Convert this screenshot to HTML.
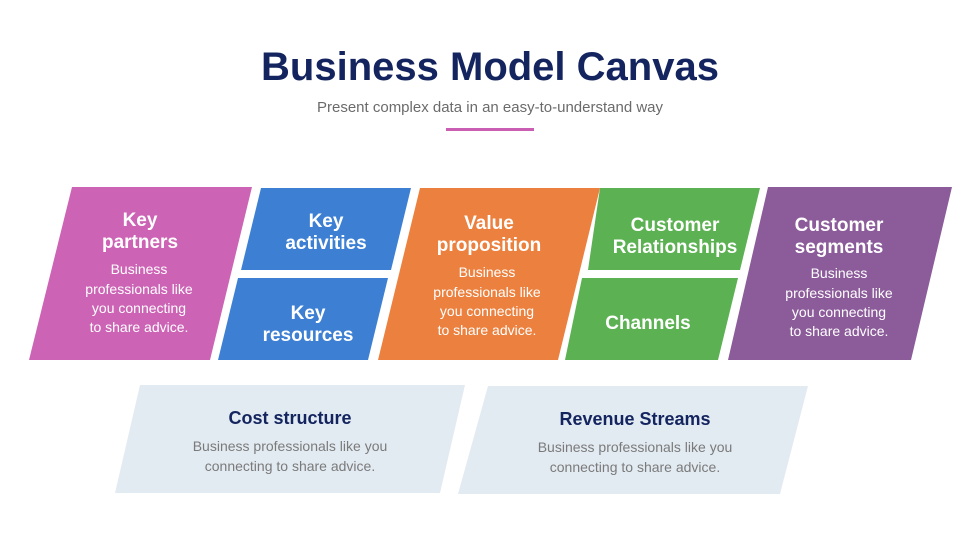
<!DOCTYPE html>
<html><head><meta charset="utf-8"><style>
html,body{margin:0;padding:0;background:#fff;}
svg{display:block;}
text{font-family:"Liberation Sans",sans-serif;}
</style></head><body>
<svg width="980" height="551" viewBox="0 0 980 551" xmlns="http://www.w3.org/2000/svg">
<text x="490" y="80" text-anchor="middle" font-size="40" font-weight="bold" fill="#13245f">Business Model Canvas</text>
<text x="490" y="112" text-anchor="middle" font-size="15" fill="#6b6b6b">Present complex data in an easy-to-understand way</text>
<rect x="446" y="128" width="88" height="3" fill="#c95eb3"/>

<polygon points="72,187 252,187 210,360 29,360" fill="#cc63b5"/>
<polygon points="261,188 411,188 391,270 241,270" fill="#3d80d3"/>
<polygon points="238,278 388,278 368,360 218,360" fill="#3d80d3"/>
<polygon points="420,188 600,188 558,360 378,360" fill="#ec803e"/>
<polygon points="600,188 760,188 740,270 588,270" fill="#5cb152"/>
<polygon points="582,278 738,278 718,360 565,360" fill="#5cb152"/>
<polygon points="768,187 952,187 911,360 728,360" fill="#8b5b9a"/>

<g fill="#fff" font-weight="bold" font-size="19" text-anchor="middle">
<text x="140" y="226">Key</text><text x="140" y="248">partners</text>
<text x="326" y="227">Key</text><text x="326" y="249">activities</text>
<text x="308" y="319">Key</text><text x="308" y="341">resources</text>
<text x="489" y="229">Value</text><text x="489" y="251">proposition</text>
<text x="675" y="231">Customer</text><text x="675" y="253">Relationships</text>
<text x="648" y="329">Channels</text>
<text x="839" y="231">Customer</text><text x="839" y="253">segments</text>
</g>
<g fill="#fff" font-size="14" text-anchor="middle">
<text x="139" y="274">Business</text><text x="139" y="294">professionals like</text><text x="139" y="313">you connecting</text><text x="139" y="332">to share advice.</text>
<text x="487" y="277">Business</text><text x="487" y="297">professionals like</text><text x="487" y="316">you connecting</text><text x="487" y="335">to share advice.</text>
<text x="839" y="278">Business</text><text x="839" y="298">professionals like</text><text x="839" y="317">you connecting</text><text x="839" y="336">to share advice.</text>
</g>

<polygon points="140,385 465,385 440,493 115,493" fill="#e3ebf2"/>
<polygon points="488,386 808,386 780,494 458,494" fill="#e3ebf2"/>
<g text-anchor="middle">
<text x="290" y="424" font-size="18" font-weight="bold" fill="#13245f">Cost structure</text>
<text x="290" y="451" font-size="14" fill="#7a7a7a">Business professionals like you</text>
<text x="290" y="471" font-size="14" fill="#7a7a7a">connecting to share advice.</text>
<text x="635" y="425" font-size="18" font-weight="bold" fill="#13245f">Revenue Streams</text>
<text x="635" y="452" font-size="14" fill="#7a7a7a">Business professionals like you</text>
<text x="635" y="472" font-size="14" fill="#7a7a7a">connecting to share advice.</text>
</g>
</svg>
</body></html>
